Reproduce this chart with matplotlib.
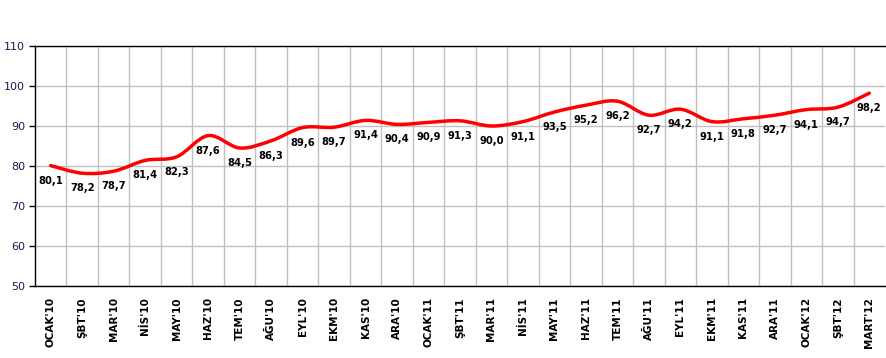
import numpy as np
import matplotlib.pyplot as plt
from matplotlib.path import Path
from matplotlib.patches import PathPatch

months = ["OCAK'10", "ŞBT'10", "MAR'10", "NİS'10", "MAY'10", "HAZ'10", "TEM'10",
          "AĞU'10", "EYL'10", "EKM'10", "KAS'10", "ARA'10", "OCAK'11", "ŞBT'11",
          "MAR'11", "NİS'11", "MAY'11", "HAZ'11", "TEM'11", "AĞU'11", "EYL'11",
          "EKM'11", "KAS'11", "ARA'11", "OCAK'12", "ŞBT'12", "MART'12"]
values = [80.1, 78.2, 78.7, 81.4, 82.3, 87.6, 84.5, 86.3, 89.6, 89.7, 91.4, 90.4,
          90.9, 91.3, 90.0, 91.1, 93.5, 95.2, 96.2, 92.7, 94.2, 91.1, 91.8, 92.7,
          94.1, 94.7, 98.2]
y_ticks = [50, 60, 70, 80, 90, 100, 110]


def smooth_path(xs, ys):
    # Excel-like smoothed line: cubic bezier segments (catmull-rom control points)
    pts = np.column_stack([xs, ys])
    verts = [pts[0]]
    codes = [Path.MOVETO]
    n = len(pts)
    for i in range(n - 1):
        p0 = pts[i - 1] if i > 0 else pts[i]
        p1 = pts[i]
        p2 = pts[i + 1]
        p3 = pts[i + 2] if i + 2 < n else pts[i + 1]
        c1 = p1 + (p2 - p0) / 6.0
        c2 = p2 - (p3 - p1) / 6.0
        verts += [c1, c2, p2]
        codes += [Path.CURVE4] * 3
    return Path(verts, codes)


fig = plt.figure(figsize=(8.87, 3.58), dpi=100)
ax = fig.add_axes([35 / 887, 72 / 358, 850 / 887, 240 / 358])

x = np.arange(len(months))
ax.add_patch(PathPatch(smooth_path(x, values), facecolor='none', edgecolor='#ff0000',
                       lw=2.5, capstyle='round', joinstyle='round', zorder=3))

for xi, v in zip(x, values):
    ax.annotate(f"{v:.1f}".replace('.', ','), xy=(xi, v), xytext=(0, -15),
                textcoords='offset pixels', ha='center', va='center',
                fontsize=7.2, fontweight='bold', color='black', zorder=4)

ax.set_xlim(-0.5, len(months) - 0.5)
ax.set_ylim(50, 110)
ax.set_yticks(y_ticks)
ax.set_yticklabels([str(t) for t in y_ticks], fontsize=8, color='#1a1a50')
ax.tick_params(axis='y', length=4, width=1, pad=3, color='black')

ax.set_xticks(x)
ax.set_xticklabels(months, rotation=90, fontsize=7.5, fontweight='bold', va='top')
ax.tick_params(axis='x', which='major', length=0, pad=8)
ax.set_xticks(np.arange(0.5, len(months) - 0.5, 1), minor=True)
ax.tick_params(axis='x', which='minor', length=0)

ax.grid(axis='y', which='major', color='#c0c0c0', lw=1)
ax.grid(axis='x', which='minor', color='#c0c0c0', lw=1)
ax.set_axisbelow(True)

for s in ['left', 'bottom', 'top']:
    ax.spines[s].set_color('black')
    ax.spines[s].set_linewidth(1)
ax.spines['right'].set_visible(False)

fig.savefig('out.png', dpi=100)
